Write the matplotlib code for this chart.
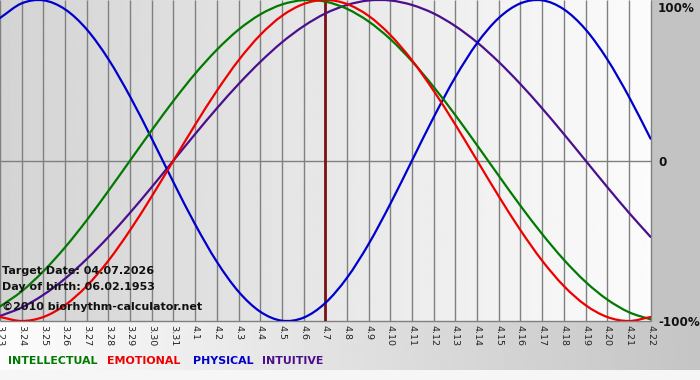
import numpy as np
import matplotlib
matplotlib.use("Agg")
import matplotlib.pyplot as plt
from matplotlib.patches import Rectangle, PathPatch
from matplotlib.path import Path

# day labels (month.day), 3.23 .. 4.22
dates = ["3.23", "3.24", "3.25", "3.26", "3.27", "3.28", "3.29", "3.30", "3.31",
         "4.1", "4.2", "4.3", "4.4", "4.5", "4.6", "4.7", "4.8", "4.9", "4.10",
         "4.11", "4.12", "4.13", "4.14", "4.15", "4.16", "4.17", "4.18", "4.19",
         "4.20", "4.21", "4.22"]
target_label = "4.7"

# cycle values (-1 .. 1)
intellectual = [-0.910, -0.815, -0.690, -0.541, -0.372, -0.189, 0.000, 0.189, 0.372, 0.541,
                0.690, 0.815, 0.910, 0.972, 0.999, 0.990, 0.945, 0.866, 0.756, 0.618,
                0.458, 0.282, 0.095, -0.095, -0.282, -0.458, -0.618, -0.756, -0.866, -0.945,
                -0.990]
emotional = [-0.975, -1.000, -0.975, -0.901, -0.782, -0.624, -0.434, -0.223, 0.000, 0.223,
             0.434, 0.624, 0.782, 0.901, 0.975, 1.000, 0.975, 0.901, 0.782, 0.624,
             0.434, 0.223, 0.000, -0.223, -0.434, -0.624, -0.782, -0.901, -0.975, -1.000,
             -0.975]
physical = [0.888, 0.979, 0.998, 0.942, 0.817, 0.631, 0.398, 0.136, -0.136, -0.398,
            -0.631, -0.817, -0.942, -0.998, -0.979, -0.888, -0.731, -0.520, -0.270, 0.000,
            0.270, 0.520, 0.731, 0.888, 0.979, 0.998, 0.942, 0.817, 0.631, 0.398,
            0.136]
intuitive = [-0.969, -0.916, -0.837, -0.736, -0.614, -0.476, -0.325, -0.165, 0.000, 0.165,
             0.325, 0.476, 0.614, 0.736, 0.837, 0.916, 0.969, 0.997, 0.997, 0.969,
             0.916, 0.837, 0.736, 0.614, 0.476, 0.325, 0.165, 0.000, -0.165, -0.325,
             -0.476]

info_lines = ["Target Date: 04.07.2026", "Day of birth: 06.02.1953",
              "\u00a92010 biorhythm-calculator.net"]

W, H = 700, 380

def fx(px):
  return px / W

def fy(py):
  return 1 - py / H

def smooth_curve(ax, xs, ys, color, z):
  # catmull-rom through the read points, drawn as bezier segments
  pts = np.column_stack([xs, ys]).astype(float)
  ext = np.vstack([2 * pts[0] - pts[1], pts, 2 * pts[-1] - pts[-2]])
  verts = [pts[0]]
  codes = [Path.MOVETO]
  for i in range(1, len(ext) - 2):
    p0, p1, p2, p3 = ext[i - 1], ext[i], ext[i + 1], ext[i + 2]
    verts += [p1 + (p2 - p0) / 6, p2 - (p3 - p1) / 6, p2]
    codes += [Path.CURVE4] * 3
  ax.add_patch(PathPatch(Path(verts, codes), fill=False, edgecolor=color,
                         lw=1.6, zorder=z, capstyle="round", joinstyle="round"))

fig = plt.figure(figsize=(7, 3.8), dpi=100)
fig.patch.set_facecolor("#f6f6f6")

# background panels
bg = fig.add_axes([0, 0, 1, 1], zorder=-10)
bg.axis("off")
bg.add_patch(Rectangle((651, 0), 49, 322, color="#c3c3c3", lw=0))
grad = np.linspace(0.99, 0.77, 256).reshape(1, -1)
bg.imshow(grad, cmap="gray", vmin=0, vmax=1, aspect="auto",
          extent=(0, W, 370, 321), interpolation="bilinear")
bg.set_xlim(0, W)
bg.set_ylim(H, 0)

ax = fig.add_axes([fx(0), fy(321), fx(651), 321 / H])
x = np.arange(len(dates))
xmax = len(dates) - 1 + 0.02
ax.set_xlim(0, xmax)
ax.set_ylim(-1.0, 1.0)

# plot area gradient
pgrad = np.linspace(0.83, 0.985, 256).reshape(1, -1)
ax.imshow(pgrad, cmap="gray", vmin=0, vmax=1, aspect="auto",
          extent=(0, xmax, -1, 1), interpolation="bilinear", zorder=0)

for s in ax.spines.values():
  s.set_visible(False)

ax.vlines(x, -1.0, 1.0, color="#808080", lw=1.0, zorder=1, clip_on=False)
ax.hlines([0, -1.0], 0, len(dates) - 1, color="#808080", lw=1.0, zorder=1, clip_on=False)

t = dates.index(target_label)
ax.vlines(t, -1.0, 1.0, color="#7a1414", lw=2.0, zorder=2)

smooth_curve(ax, x, intuitive, "#4b0f8c", 3)
smooth_curve(ax, x, physical, "#0000cc", 3)
smooth_curve(ax, x, intellectual, "#007a00", 3)
smooth_curve(ax, x, emotional, "#ee0000", 4)

ax.set_yticks([])
ax.set_xticks(x)
ax.set_xticklabels(dates, rotation=-90, fontsize=6.8, color="#222222")
ax.tick_params(axis="x", length=0, pad=3)
for lbl in ax.get_xticklabels():
  lbl.set_verticalalignment("top")
  lbl.set_horizontalalignment("center")

lab = dict(fontsize=8.6, fontweight="bold", color="#111111", family="DejaVu Sans")
fig.text(fx(658), fy(8), "100%", va="center", ha="left", **lab)
fig.text(fx(658), fy(162), "0", va="center", ha="left", **lab)
fig.text(fx(658), fy(322), "-100%", va="center", ha="left", **lab)

info = dict(fontsize=8, fontweight="bold", color="#111111", family="DejaVu Sans")
for yy, s in zip([271, 287, 307], info_lines):
  fig.text(fx(2), fy(yy), s, va="center", ha="left", **info)

leg = [("INTELLECTUAL", "#007a00", 8), ("EMOTIONAL", "#ee0000", 107),
       ("PHYSICAL", "#0000cc", 193), ("INTUITIVE", "#4b0f8c", 262)]
for s, c, xx in leg:
  fig.text(fx(xx), fy(361), s, va="center", ha="left", fontsize=7.9,
           fontweight="bold", color=c, family="DejaVu Sans")

fig.savefig("out.png", dpi=100)
